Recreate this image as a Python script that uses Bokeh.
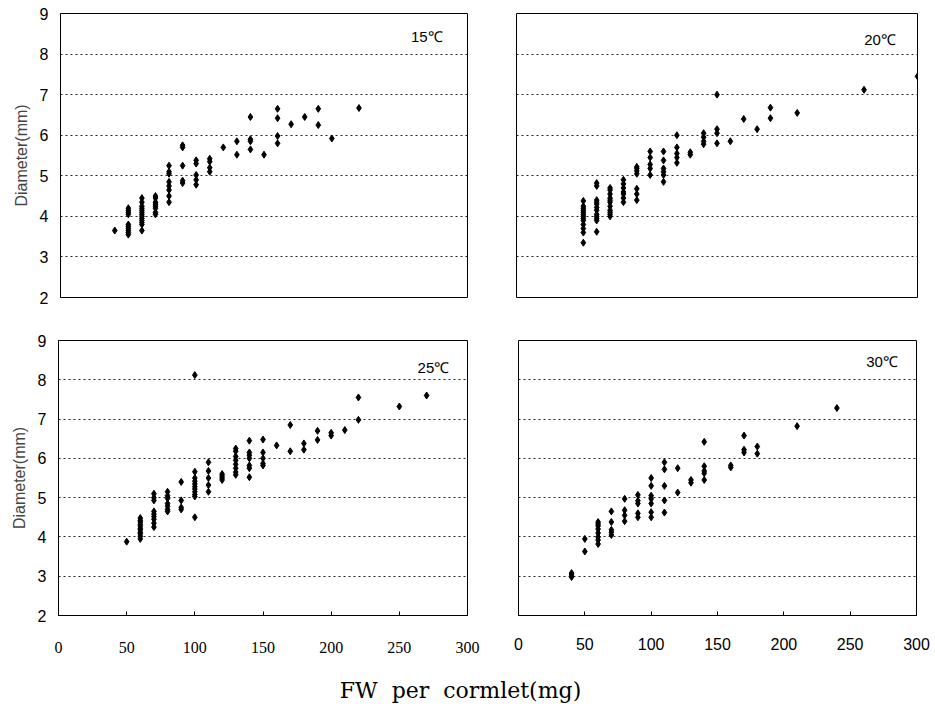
from bokeh.plotting import figure
from bokeh.models import Range1d, Label, FixedTicker
from bokeh.layouts import column, row
from bokeh.embed import file_html
from bokeh.resources import INLINE

# ---------------- data ----------------
y_ticks = [2, 3, 4, 5, 6, 7, 8, 9]
x_ticks = [0, 50, 100, 150, 200, 250, 300]

fw_15 = [40, 50, 60, 70, 80, 90, 100, 110, 120, 130, 140, 150, 160, 170, 180, 190, 200, 220]
dia_15 = [
    [3.65],
    [4.2, 4.15, 4.1, 4.05, 3.8, 3.75, 3.7, 3.65, 3.6, 3.55],
    [4.45, 4.35, 4.25, 4.2, 4.15, 4.1, 4.05, 4.0, 3.95, 3.9, 3.85, 3.8, 3.65],
    [4.5, 4.45, 4.35, 4.3, 4.25, 4.2, 4.1, 4.05],
    [5.25, 5.1, 5.05, 4.85, 4.75, 4.65, 4.5, 4.35],
    [5.75, 5.7, 5.25, 4.88, 4.82],
    [5.38, 5.3, 5.02, 4.9, 4.78],
    [5.42, 5.35, 5.2, 5.1],
    [5.7],
    [5.85, 5.52],
    [6.45, 5.9, 5.85, 5.65],
    [5.52],
    [6.65, 6.42, 5.98, 5.8],
    [6.27],
    [6.45],
    [6.65, 6.25],
    [5.92],
    [6.67],
]

fw_20 = [50, 60, 70, 80, 90, 100, 110, 120, 130, 140, 150, 160, 170, 180, 190, 210, 260, 300]
dia_20 = [
    [4.38, 4.25, 4.2, 4.15, 4.1, 4.05, 4.0, 3.95, 3.9, 3.8, 3.7, 3.6, 3.35],
    [4.82, 4.75, 4.4, 4.35, 4.3, 4.22, 4.15, 4.05, 4.0, 3.95, 3.9, 3.62],
    [4.7, 4.65, 4.55, 4.45, 4.4, 4.35, 4.25, 4.15, 4.1, 4.05, 4.0],
    [4.9, 4.8, 4.7, 4.6, 4.55, 4.45, 4.35],
    [5.22, 5.18, 5.12, 5.05, 4.68, 4.55, 4.4],
    [5.6, 5.45, 5.28, 5.18, 5.02],
    [5.6, 5.38, 5.18, 5.1, 5.02, 4.85],
    [6.0, 5.7, 5.55, 5.45, 5.32],
    [5.58, 5.52],
    [6.05, 5.95, 5.85, 5.78],
    [7.0, 6.15, 6.05, 5.8],
    [5.85],
    [6.4],
    [6.15],
    [6.68, 6.42],
    [6.55],
    [7.12],
    [7.45],
]

fw_25 = [50, 60, 70, 80, 90, 100, 110, 120, 130, 140, 150, 160, 170, 180, 190, 200, 210, 220, 250, 270]
dia_25 = [
    [3.88],
    [4.48, 4.42, 4.38, 4.32, 4.28, 4.22, 4.18, 4.12, 4.08, 4.02, 3.95],
    [5.1, 5.0, 4.93, 4.65, 4.58, 4.52, 4.45, 4.35, 4.25],
    [5.15, 5.05, 4.98, 4.85, 4.78, 4.7, 4.65],
    [5.4, 4.93, 4.75, 4.7],
    [8.12, 5.66, 5.5, 5.42, 5.35, 5.28, 5.22, 5.15, 5.08, 5.03, 4.5],
    [5.9, 5.68, 5.5, 5.32, 5.15],
    [5.6, 5.55, 5.5, 5.45],
    [6.25, 6.18, 6.05, 5.95, 5.85, 5.75, 5.65, 5.58],
    [6.45, 6.15, 6.08, 6.0, 5.82, 5.75, 5.52],
    [6.48, 6.15, 6.0, 5.87, 5.82],
    [6.33],
    [6.85, 6.18],
    [6.38, 6.22],
    [6.7, 6.47],
    [6.65, 6.58],
    [6.72],
    [7.55, 6.98],
    [7.32],
    [7.6],
]

fw_30 = [40, 50, 60, 70, 80, 90, 100, 110, 120, 130, 140, 160, 170, 180, 210, 240]
dia_30 = [
    [3.08, 3.03, 2.98],
    [3.95, 3.63],
    [4.38, 4.33, 4.28, 4.2, 4.1, 4.0, 3.92, 3.82],
    [4.65, 4.38, 4.18, 4.12, 4.05],
    [4.97, 4.68, 4.55, 4.4],
    [5.07, 4.92, 4.85, 4.6, 4.5],
    [5.5, 5.3, 5.05, 4.97, 4.85, 4.63, 4.5],
    [5.9, 5.72, 5.3, 4.93, 4.62],
    [5.75, 5.13],
    [5.45, 5.38],
    [6.42, 5.8, 5.68, 5.62, 5.45],
    [5.82, 5.77],
    [6.58, 6.22, 6.15],
    [6.3, 6.12],
    [6.82],
    [7.28],
]

tags = ["15℃", "20℃", "25℃", "30℃"]
y_title = "Diameter(mm)"
x_title = "FW\u00a0\u00a0per\u00a0\u00a0cormlet(mg)"


def flatten(fw, dia):
    xs, ys = [], []
    for f, ds in zip(fw, dia):
        for d in ds:
            xs.append(f)
            ys.append(d)
    return xs, ys


def panel(fw, dia, tag, tag_x, tag_y, width, height, mb, show_y, show_x, xfont, xstand):
    p = figure(width=width, height=height, x_range=Range1d(0, 300), y_range=Range1d(2, 9),
               output_backend="svg", toolbar_location=None,
               min_border_left=mb[0], min_border_right=mb[1],
               min_border_top=mb[2], min_border_bottom=mb[3])
    p.background_fill_color = "white"
    p.border_fill_color = "white"
    p.outline_line_color = "black"
    p.outline_line_width = 1
    p.outline_line_alpha = 1

    yt = FixedTicker(ticks=y_ticks)
    xt = FixedTicker(ticks=x_ticks)
    p.yaxis.ticker = yt
    p.ygrid.ticker = yt
    p.xaxis.ticker = xt
    p.xgrid.visible = False
    p.ygrid.grid_line_color = "black"
    p.ygrid.grid_line_dash = "2 3"
    p.ygrid.grid_line_width = 1
    p.ygrid.grid_line_alpha = 0.85

    if show_y:
        p.yaxis.axis_label = y_title
        p.yaxis.axis_label_text_font = "Liberation Sans"
        p.yaxis.axis_label_text_font_style = "normal"
        p.yaxis.axis_label_text_font_size = "16px"
        p.yaxis.axis_label_standoff = 7
        p.yaxis.major_label_text_font = "Liberation Sans"
        p.yaxis.major_label_text_font_size = "16px"
        p.yaxis.major_label_text_color = "black"
        p.yaxis.major_label_standoff = 12
        p.yaxis.major_tick_out = 0
        p.yaxis.major_tick_in = 0
        p.yaxis.minor_tick_line_color = None
        p.yaxis.axis_line_color = "black"
    else:
        p.yaxis.visible = False

    if show_x:
        p.xaxis.major_label_text_font = xfont
        p.xaxis.major_label_text_font_size = "16px"
        p.xaxis.major_label_text_color = "black"
        p.xaxis.major_label_standoff = xstand
        p.xaxis.major_tick_out = 0
        p.xaxis.major_tick_in = 4
        p.xaxis.major_tick_line_color = "black"
        p.xaxis.minor_tick_line_color = None
        p.xaxis.axis_line_color = "black"
    else:
        p.xaxis.visible = False

    xs, ys = flatten(fw, dia)
    p.scatter(xs, ys, marker="diamond", size=7, color="black")

    p.add_layout(Label(x=tag_x, y=tag_y, text=tag, text_align="center", text_baseline="middle",
                       text_font="Liberation Sans", text_font_size="15px", text_color="black"))
    return p


p1 = panel(fw_15, dia_15, tags[0], 270, 8.43, 490, 320, (60, 23, 13, 22), True, False, "Liberation Sans", 20)
p2 = panel(fw_20, dia_20, tags[1], 272, 8.36, 445, 320, (26, 18, 11, 23), False, False, "Liberation Sans", 20)
p3 = panel(fw_25, dia_25, tags[2], 275, 8.32, 490, 345, (58, 23, 20, 47), True, True, "Liberation Serif", 26)
p4 = panel(fw_30, dia_30, tags[3], 274, 8.47, 445, 345, (28, 19, 15, 50), False, True, "Liberation Sans", 22)

pt = figure(width=935, height=44, x_range=Range1d(0, 935), y_range=Range1d(0, 44),
            output_backend="svg", toolbar_location=None,
            min_border_left=0, min_border_right=0, min_border_top=0, min_border_bottom=0)
pt.axis.visible = False
pt.grid.visible = False
pt.outline_line_color = None
pt.add_layout(Label(x=460, y=19, text=x_title, text_align="center", text_baseline="middle",
                    text_font="DejaVu Serif", text_font_size="22px", text_color="black"))

layout = column(row(p1, p2), row(p3, p4), pt)

open("out.html", "w").write(file_html(layout, INLINE))
